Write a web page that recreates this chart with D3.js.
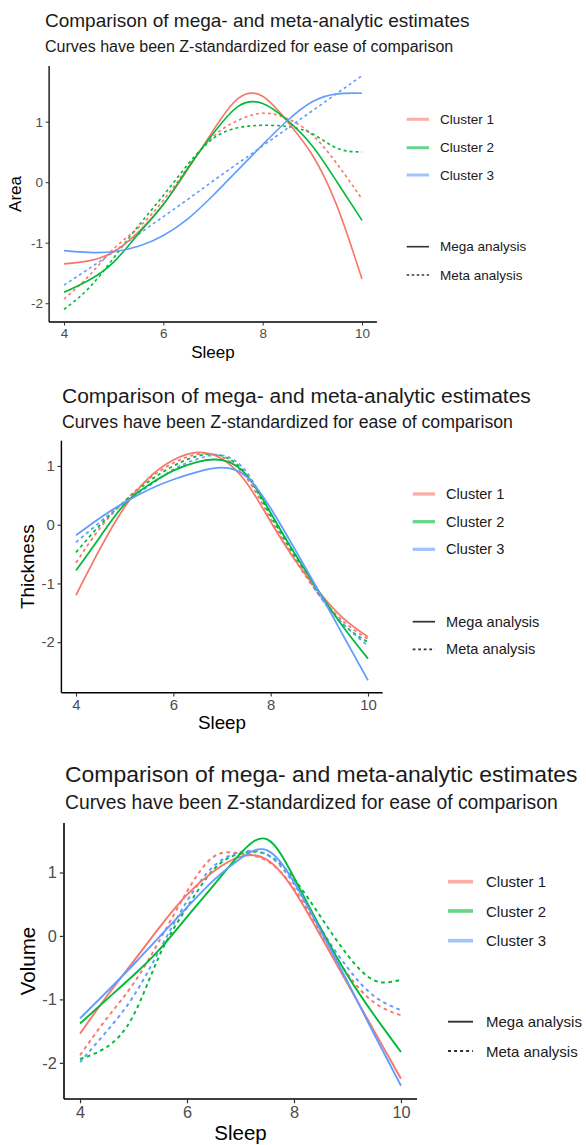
<!DOCTYPE html>
<html>
<head>
<meta charset="utf-8">
<script src="https://cdn.jsdelivr.net/npm/d3@7"></script>
<style>
  body { margin: 0; background: #fff; }
  svg { display: block; font-family: "Liberation Sans", Arial, sans-serif; }
</style>
</head>
<body>
<div id="chart"></div>
<script>
// sleep hours sampled along each curve
const sleep = [4, 4.5, 5, 5.5, 6, 6.5, 7, 7.5, 8, 8.5, 9, 9.5, 10];
const clusters = ["Cluster 1", "Cluster 2", "Cluster 3"];
const colors = ["#F8766D", "#00BA38", "#619CFF"];
const analyses = ["Mega analysis", "Meta analysis"];
const xTicks = [4, 6, 8, 10];
const yTicks = [-2, -1, 0, 1];

// Area
const areaMega1 = [-1.35, -1.3, -1.15, -0.82, -0.37, 0.22, 0.85, 1.38, 1.42, 1.0, 0.45, -0.4, -1.6];
const areaMega2 = [-1.82, -1.62, -1.32, -0.85, -0.37, 0.24, 0.8, 1.25, 1.3, 1.02, 0.6, 0.0, -0.63];
const areaMega3 = [-1.13, -1.16, -1.15, -1.06, -0.88, -0.6, -0.22, 0.2, 0.62, 1.02, 1.33, 1.46, 1.47];
const areaMeta1 = [-1.93, -1.55, -1.1, -0.75, -0.3, 0.25, 0.75, 1.02, 1.14, 1.05, 0.78, 0.3, -0.28];
const areaMeta2 = [-2.1, -1.75, -1.25, -0.72, -0.22, 0.3, 0.72, 0.9, 0.94, 0.92, 0.8, 0.56, 0.5];
const areaMeta3 = [-1.7, -1.43, -1.15, -0.86, -0.57, -0.28, 0.02, 0.31, 0.6, 0.89, 1.18, 1.47, 1.76];

// Thickness
const thickMega1 = [-1.2, -0.4, 0.3, 0.8, 1.1, 1.23, 1.12, 0.72, 0.05, -0.6, -1.15, -1.6, -1.91];
const thickMega2 = [-0.78, -0.2, 0.35, 0.68, 0.92, 1.07, 1.1, 0.85, 0.2, -0.5, -1.15, -1.75, -2.28];
const thickMega3 = [-0.18, 0.12, 0.38, 0.6, 0.77, 0.9, 0.97, 0.82, 0.28, -0.42, -1.15, -1.9, -2.65];
const thickMeta1 = [-0.65, -0.05, 0.4, 0.78, 1.05, 1.2, 1.15, 0.8, 0.1, -0.6, -1.2, -1.65, -1.95];
const thickMeta2 = [-0.47, 0.0, 0.4, 0.74, 1.0, 1.17, 1.17, 0.85, 0.15, -0.55, -1.2, -1.7, -2.0];
const thickMeta3 = [-0.3, 0.05, 0.38, 0.66, 0.94, 1.12, 1.18, 0.9, 0.2, -0.5, -1.2, -1.7, -2.06];

// Volume
const volMega1 = [-1.54, -0.95, -0.4, 0.15, 0.65, 1.02, 1.25, 1.2, 0.72, 0.0, -0.75, -1.5, -2.25];
const volMega2 = [-1.38, -1.0, -0.62, -0.2, 0.3, 0.8, 1.3, 1.52, 0.92, 0.12, -0.62, -1.25, -1.83];
const volMega3 = [-1.3, -0.88, -0.45, 0.0, 0.45, 0.88, 1.22, 1.35, 0.85, 0.08, -0.72, -1.55, -2.36];
const volMeta1 = [-1.88, -1.3, -0.75, -0.05, 0.7, 1.25, 1.3, 1.18, 0.75, 0.05, -0.6, -1.05, -1.25];
const volMeta2 = [-1.94, -1.75, -1.25, -0.28, 0.45, 1.05, 1.3, 1.28, 0.9, 0.3, -0.3, -0.7, -0.69];
const volMeta3 = [-1.99, -1.5, -0.95, -0.2, 0.55, 1.1, 1.32, 1.28, 0.82, 0.12, -0.5, -0.95, -1.17];

const titleText = "Comparison of mega- and meta-analytic estimates";
const subtitleText = "Curves have been Z-standardized for ease of comparison";

const W = 586, H = 1145;
const svg = d3.select("#chart").append("svg").attr("width", W).attr("height", H);

//layout of the three stacked panels (they were pasted at slightly different sizes)
const panels = [
  { yLabel: "Area", mega: [areaMega1, areaMega2, areaMega3], meta: [areaMeta1, areaMeta2, areaMeta3],
    k: 1, left: 45, titleY: 26.7, subY: 51.7,
    xRange: [49.1, 376.9], yDomain: [-2.31, 1.92], yRange: [322, 66],
    yLabelX: 15, xLabelY: 358, keyX: 406.7, keyW: 22.3, textX: 440, legendFont: 13.5,
    legendY: [119.3, 147.7, 175, 246.7, 275] },
  { yLabel: "Thickness", mega: [thickMega1, thickMega2, thickMega3], meta: [thickMeta1, thickMeta2, thickMeta3],
    k: 1.105, left: 62, titleY: 403.3, subY: 428.3,
    xRange: [61.4, 382.6], yDomain: [-2.86, 1.43], yRange: [692.7, 440.7],
    yLabelX: 27, xLabelY: 729, keyX: 412.7, keyW: 22.3, textX: 446, legendFont: 14.6,
    legendY: [494, 521.7, 549.3, 621.7, 649.3] },
  { yLabel: "Volume", mega: [volMega1, volMega2, volMega3], meta: [volMeta1, volMeta2, volMeta3],
    k: 1.208, left: 65, titleY: 781.7, subY: 809,
    xRange: [64, 417], yDomain: [-2.57, 1.78], yRange: [1099, 823],
    yLabelX: 27, xLabelY: 1140, keyX: 448, keyW: 25, textX: 486, legendFont: 15,
    legendY: [881.7, 911, 940.7, 1021.7, 1051] }
];

panels.forEach(drawPanel);

function drawPanel(p) {
  const k = p.k;
  const g = svg.append("g");

  //titles
  g.append("text").attr("x", p.left).attr("y", p.titleY)
    .style("font-size", (19 * k) + "px").attr("fill", "#1a1a1a").text(titleText);
  g.append("text").attr("x", p.left).attr("y", p.subY)
    .style("font-size", (16 * k) + "px").attr("fill", "#1a1a1a").text(subtitleText);

  const x = d3.scaleLinear().domain([3.7, 10.3]).range(p.xRange);
  const y = d3.scaleLinear().domain(p.yDomain).range(p.yRange);

  //curves
  const line = d3.line()
    .x((d) => x(d[0]))
    .y((d) => y(d[1]))
    .curve(d3.curveNatural);

  const series = [];
  p.meta.forEach((vals, i) => series.push({ c: i, dash: true, vals }));
  p.mega.forEach((vals, i) => series.push({ c: i, dash: false, vals }));

  g.selectAll(".curve")
    .data(series)
    .enter()
    .append("path")
    .attr("class", "curve")
    .attr("d", (d) => line(d.vals.map((v, j) => [sleep[j], v])))
    .attr("fill", "none")
    .attr("stroke", (d) => colors[d.c])
    .attr("stroke-width", 1.6 * k)
    .attr("stroke-dasharray", (d) => (d.dash ? `${3 * k},${3 * k}` : null));

  //axes
  const xAxis = d3.axisBottom(x).tickValues(xTicks).tickFormat((d) => String(d))
    .tickSize(3.5 * k).tickPadding(2.5 * k);
  const yAxis = d3.axisLeft(y).tickValues(yTicks).tickFormat((d) => String(d))
    .tickSize(3.5 * k).tickPadding(2.5 * k);

  const gx = g.append("g").attr("transform", `translate(0, ${p.yRange[0]})`).call(xAxis);
  const gy = g.append("g").attr("transform", `translate(${p.xRange[0]}, 0)`).call(yAxis);

  [gx, gy].forEach((ax) => {
    ax.select(".domain").attr("stroke", "#000").attr("stroke-width", 1.3 * k);
    ax.selectAll(".tick line").attr("stroke", "#333").attr("stroke-width", 1 * k);
    ax.selectAll(".tick text")
      .attr("fill", "#4d4d4d")
      .style("font-size", (13.5 * k) + "px")
      .style("font-family", "'Liberation Sans', Arial, sans-serif");
  });
  gy.select(".domain").attr("d", `M0,${p.yRange[0]}V${p.yRange[1]}`);
  gx.select(".domain").attr("d", `M${p.xRange[0]},0H${p.xRange[1]}`);

  //axis titles
  g.append("text")
    .attr("x", (p.xRange[0] + p.xRange[1]) / 2)
    .attr("y", p.xLabelY)
    .attr("text-anchor", "middle")
    .style("font-size", (17 * k) + "px")
    .attr("fill", "#000")
    .text("Sleep");
  g.append("text")
    .attr("transform", `translate(${p.yLabelX}, ${(p.yRange[0] + p.yRange[1]) / 2}) rotate(-90)`)
    .attr("text-anchor", "middle")
    .attr("dominant-baseline", "central")
    .style("font-size", (17 * k) + "px")
    .attr("fill", "#000")
    .text(p.yLabel);

  //legend: colour keys then linetype keys
  const items = clusters.map((name, i) => ({ name, color: colors[i], opacity: 0.6, dash: null, w: 3 * k }))
    .concat(analyses.map((name, i) => ({ name, color: "#333", opacity: 1, dash: i ? `${2.5 * k},${2.5 * k}` : null, w: 1.6 * k })));

  const leg = g.selectAll(".legItem").data(items).enter().append("g")
    .attr("transform", (d, i) => `translate(0, ${p.legendY[i]})`);
  leg.append("line")
    .attr("x1", p.keyX).attr("x2", p.keyX + p.keyW)
    .attr("stroke", (d) => d.color)
    .attr("stroke-opacity", (d) => d.opacity)
    .attr("stroke-width", (d) => d.w)
    .attr("stroke-dasharray", (d) => d.dash);
  leg.append("text")
    .attr("x", p.textX)
    .attr("dominant-baseline", "central")
    .style("font-size", p.legendFont + "px")
    .attr("fill", "#1a1a1a")
    .text((d) => d.name);
}
</script>
</body>
</html>
